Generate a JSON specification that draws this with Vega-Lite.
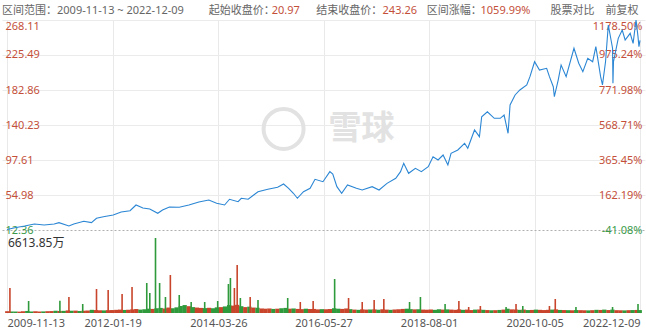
{
  "$schema": "https://vega.github.io/schema/vega-lite/v6.json",
  "width": 643,
  "height": 293,
  "autosize": {"type": "none"},
  "padding": {"left": 2, "right": 1, "top": 20, "bottom": 15},
  "background": "white",
  "config": {"view": {"stroke": null}},
  "title": {
    "text": "区间范围：2009-11-13 ~ 2022-12-09\u3000\u3000\u00a0起始收盘价：\u00a0\u3000\u3000\u3000\u00a0\u00a0结束收盘价：\u00a0\u3000\u3000\u3000\u00a0\u00a0\u00a0区间涨幅：\u00a0\u3000\u3000\u3000\u3000\u3000\u3000股票对比\u3000前复权",
    "subtitle": "\u200b\u3000\u3000\u3000\u3000\u3000\u3000\u3000\u3000\u3000\u3000\u3000\u3000\u3000\u3000\u3000\u3000\u3000\u3000\u3000\u3000\u3000\u3000\u3000\u3000\u00a0\u00a020.97\u3000\u3000\u3000\u3000\u3000\u3000\u3000\u00a0\u00a0243.26\u3000\u3000\u3000\u3000\u3000\u00a0\u00a0\u00a01059.99%",
    "anchor": "start",
    "frame": "group",
    "font": "Noto Sans, Noto Sans CJK SC",
    "fontSize": 11,
    "fontWeight": "normal",
    "color": "#666666",
    "lineHeight": 11,
    "subtitleFont": "Noto Sans, Noto Sans CJK SC",
    "subtitleFontSize": 11,
    "subtitleFontWeight": "normal",
    "subtitleColor": "#c4503a",
    "subtitleLineHeight": 11,
    "subtitlePadding": -11,
    "offset": 2
  },
  "datasets": {
    "price": [
      {"d": "2009-11-13", "p": 13.0}, {"d": "2010-01-11", "p": 15.2}, {"d": "2010-03-26", "p": 17.2},
      {"d": "2010-06-08", "p": 19.7}, {"d": "2010-08-20", "p": 18.5}, {"d": "2010-11-04", "p": 19.7},
      {"d": "2010-12-10", "p": 21.3}, {"d": "2011-02-23", "p": 17.2}, {"d": "2011-04-01", "p": 19.7},
      {"d": "2011-06-15", "p": 23.0}, {"d": "2011-08-12", "p": 21.3}, {"d": "2011-09-19", "p": 26.6},
      {"d": "2011-11-10", "p": 28.6}, {"d": "2012-01-23", "p": 30.6}, {"d": "2012-03-23", "p": 34.3},
      {"d": "2012-05-29", "p": 35.9}, {"d": "2012-07-13", "p": 42.8}, {"d": "2012-09-03", "p": 39.2},
      {"d": "2012-10-25", "p": 37.9}, {"d": "2012-12-24", "p": 32.7}, {"d": "2013-01-29", "p": 36.7},
      {"d": "2013-03-22", "p": 40.4}, {"d": "2013-06-04", "p": 40.0}, {"d": "2013-08-16", "p": 42.8},
      {"d": "2013-10-30", "p": 46.5}, {"d": "2014-01-13", "p": 48.9}, {"d": "2014-03-13", "p": 44.9},
      {"d": "2014-05-12", "p": 42.8}, {"d": "2014-06-18", "p": 49.8}, {"d": "2014-08-22", "p": 46.8},
      {"d": "2014-09-15", "p": 51.0}, {"d": "2014-11-06", "p": 49.8}, {"d": "2015-01-19", "p": 59.0},
      {"d": "2015-04-03", "p": 61.9}, {"d": "2015-06-16", "p": 64.4}, {"d": "2015-07-31", "p": 68.4},
      {"d": "2015-09-07", "p": 63.1}, {"d": "2015-10-13", "p": 57.1}, {"d": "2015-11-12", "p": 51.0},
      {"d": "2015-12-28", "p": 59.0}, {"d": "2016-02-16", "p": 63.1}, {"d": "2016-03-24", "p": 74.1},
      {"d": "2016-05-23", "p": 71.2}, {"d": "2016-07-14", "p": 83.4}, {"d": "2016-08-05", "p": 80.6},
      {"d": "2016-09-05", "p": 65.1}, {"d": "2016-10-11", "p": 57.1}, {"d": "2016-11-24", "p": 67.2},
      {"d": "2017-01-30", "p": 63.1}, {"d": "2017-03-15", "p": 61.1}, {"d": "2017-05-29", "p": 65.1},
      {"d": "2017-07-20", "p": 61.1}, {"d": "2017-09-18", "p": 69.2}, {"d": "2017-11-23", "p": 75.3},
      {"d": "2017-12-29", "p": 83.4}, {"d": "2018-01-22", "p": 93.6}, {"d": "2018-02-28", "p": 81.4},
      {"d": "2018-04-20", "p": 87.5}, {"d": "2018-06-04", "p": 83.4}, {"d": "2018-07-26", "p": 89.5},
      {"d": "2018-08-31", "p": 101.6}, {"d": "2018-10-08", "p": 97.6}, {"d": "2018-11-15", "p": 103.7},
      {"d": "2018-12-21", "p": 91.5}, {"d": "2019-01-14", "p": 105.8}, {"d": "2019-03-06", "p": 109.8},
      {"d": "2019-04-26", "p": 118.0}, {"d": "2019-05-20", "p": 111.9}, {"d": "2019-07-10", "p": 134.2},
      {"d": "2019-08-16", "p": 126.0}, {"d": "2019-09-02", "p": 150.3}, {"d": "2019-10-15", "p": 156.4},
      {"d": "2019-12-06", "p": 148.4}, {"d": "2020-01-20", "p": 148.4}, {"d": "2020-02-18", "p": 152.4},
      {"d": "2020-03-19", "p": 130.1}, {"d": "2020-04-03", "p": 164.6}, {"d": "2020-05-11", "p": 176.8},
      {"d": "2020-06-16", "p": 182.9}, {"d": "2020-08-07", "p": 189.0}, {"d": "2020-08-31", "p": 199.1},
      {"d": "2020-10-05", "p": 217.3}, {"d": "2020-11-11", "p": 207.2}, {"d": "2021-01-04", "p": 209.3},
      {"d": "2021-01-25", "p": 199.1}, {"d": "2021-02-23", "p": 186.9}, {"d": "2021-03-03", "p": 174.7},
      {"d": "2021-04-01", "p": 195.0}, {"d": "2021-04-23", "p": 213.3}, {"d": "2021-05-31", "p": 199.1},
      {"d": "2021-07-29", "p": 233.7}, {"d": "2021-09-03", "p": 215.4}, {"d": "2021-10-04", "p": 205.2},
      {"d": "2021-11-10", "p": 221.5}, {"d": "2021-12-17", "p": 217.3}, {"d": "2022-01-10", "p": 235.6},
      {"d": "2022-02-15", "p": 199.1}, {"d": "2022-03-01", "p": 189.0}, {"d": "2022-03-24", "p": 217.3},
      {"d": "2022-04-14", "p": 262.0}, {"d": "2022-05-16", "p": 233.7}, {"d": "2022-05-19", "p": 191.0},
      {"d": "2022-05-23", "p": 217.3}, {"d": "2022-06-28", "p": 245.8}, {"d": "2022-07-28", "p": 255.9},
      {"d": "2022-08-19", "p": 243.8}, {"d": "2022-09-26", "p": 251.9}, {"d": "2022-10-18", "p": 239.7},
      {"d": "2022-11-09", "p": 268.11}, {"d": "2022-11-24", "p": 247.8}, {"d": "2022-12-01", "p": 235.6},
      {"d": "2022-12-09", "p": 243.26}
    ],
    "vol": [
      {"d": "2009-11-15", "v": 160, "s": "up"}, {"d": "2009-12-15", "v": 140, "s": "dn"},
      {"d": "2010-01-15", "v": 130, "s": "dn"}, {"d": "2010-02-15", "v": 120, "s": "up"}, {"d": "2010-03-15", "v": 150, "s": "up"}, {"d": "2010-04-15", "v": 180, "s": "dn"}, {"d": "2010-05-15", "v": 140, "s": "dn"}, {"d": "2010-06-15", "v": 150, "s": "up"}, {"d": "2010-07-15", "v": 130, "s": "up"}, {"d": "2010-08-15", "v": 140, "s": "dn"}, {"d": "2010-09-15", "v": 160, "s": "up"}, {"d": "2010-10-15", "v": 170, "s": "up"}, {"d": "2010-11-15", "v": 200, "s": "dn"}, {"d": "2010-12-15", "v": 180, "s": "up"},
      {"d": "2011-01-15", "v": 190, "s": "dn"}, {"d": "2011-02-15", "v": 230, "s": "up"}, {"d": "2011-03-15", "v": 200, "s": "dn"}, {"d": "2011-04-15", "v": 210, "s": "up"}, {"d": "2011-05-15", "v": 180, "s": "dn"}, {"d": "2011-06-15", "v": 200, "s": "up"}, {"d": "2011-07-15", "v": 220, "s": "up"}, {"d": "2011-08-15", "v": 280, "s": "dn"}, {"d": "2011-09-15", "v": 260, "s": "up"}, {"d": "2011-10-15", "v": 240, "s": "up"}, {"d": "2011-11-15", "v": 230, "s": "dn"}, {"d": "2011-12-15", "v": 250, "s": "up"},
      {"d": "2012-01-15", "v": 260, "s": "up"}, {"d": "2012-02-15", "v": 280, "s": "up"}, {"d": "2012-03-15", "v": 300, "s": "up"}, {"d": "2012-04-15", "v": 270, "s": "dn"}, {"d": "2012-05-15", "v": 290, "s": "up"}, {"d": "2012-06-15", "v": 320, "s": "up"}, {"d": "2012-07-15", "v": 350, "s": "up"}, {"d": "2012-08-15", "v": 300, "s": "dn"}, {"d": "2012-09-15", "v": 330, "s": "dn"}, {"d": "2012-10-15", "v": 380, "s": "dn"}, {"d": "2012-11-15", "v": 360, "s": "up"}, {"d": "2012-12-15", "v": 420, "s": "dn"},
      {"d": "2013-01-15", "v": 450, "s": "dn"}, {"d": "2013-02-15", "v": 400, "s": "up"}, {"d": "2013-03-15", "v": 480, "s": "up"}, {"d": "2013-04-15", "v": 420, "s": "dn"}, {"d": "2013-05-15", "v": 500, "s": "dn"}, {"d": "2013-06-15", "v": 620, "s": "dn"}, {"d": "2013-07-15", "v": 700, "s": "dn"}, {"d": "2013-08-15", "v": 600, "s": "up"}, {"d": "2013-09-15", "v": 520, "s": "dn"}, {"d": "2013-10-15", "v": 480, "s": "up"}, {"d": "2013-11-15", "v": 450, "s": "up"}, {"d": "2013-12-15", "v": 430, "s": "dn"},
      {"d": "2014-01-15", "v": 460, "s": "up"}, {"d": "2014-02-15", "v": 420, "s": "dn"}, {"d": "2014-03-15", "v": 500, "s": "dn"}, {"d": "2014-04-15", "v": 520, "s": "up"}, {"d": "2014-05-15", "v": 580, "s": "dn"}, {"d": "2014-06-15", "v": 700, "s": "dn"}, {"d": "2014-07-15", "v": 650, "s": "up"}, {"d": "2014-08-15", "v": 720, "s": "up"}, {"d": "2014-09-15", "v": 600, "s": "dn"}, {"d": "2014-10-15", "v": 520, "s": "up"}, {"d": "2014-11-15", "v": 560, "s": "dn"}, {"d": "2014-12-15", "v": 480, "s": "up"},
      {"d": "2015-01-15", "v": 460, "s": "dn"}, {"d": "2015-02-15", "v": 400, "s": "up"}, {"d": "2015-03-15", "v": 380, "s": "up"}, {"d": "2015-04-15", "v": 400, "s": "up"}, {"d": "2015-05-15", "v": 360, "s": "dn"}, {"d": "2015-06-15", "v": 380, "s": "up"}, {"d": "2015-07-15", "v": 420, "s": "dn"}, {"d": "2015-08-15", "v": 450, "s": "dn"}, {"d": "2015-09-15", "v": 380, "s": "up"}, {"d": "2015-10-15", "v": 400, "s": "dn"}, {"d": "2015-11-15", "v": 360, "s": "up"}, {"d": "2015-12-15", "v": 340, "s": "up"},
      {"d": "2016-01-15", "v": 380, "s": "dn"}, {"d": "2016-02-15", "v": 350, "s": "up"}, {"d": "2016-03-15", "v": 360, "s": "up"}, {"d": "2016-04-15", "v": 320, "s": "up"}, {"d": "2016-05-15", "v": 340, "s": "dn"}, {"d": "2016-06-15", "v": 330, "s": "up"}, {"d": "2016-07-15", "v": 350, "s": "up"}, {"d": "2016-08-15", "v": 420, "s": "dn"}, {"d": "2016-09-15", "v": 380, "s": "dn"}, {"d": "2016-10-15", "v": 360, "s": "up"}, {"d": "2016-11-15", "v": 400, "s": "up"}, {"d": "2016-12-15", "v": 340, "s": "dn"},
      {"d": "2017-01-15", "v": 300, "s": "up"}, {"d": "2017-02-15", "v": 280, "s": "dn"}, {"d": "2017-03-15", "v": 320, "s": "up"}, {"d": "2017-04-15", "v": 300, "s": "up"}, {"d": "2017-05-15", "v": 310, "s": "dn"}, {"d": "2017-06-15", "v": 320, "s": "up"}, {"d": "2017-07-15", "v": 290, "s": "dn"}, {"d": "2017-08-15", "v": 330, "s": "up"}, {"d": "2017-09-15", "v": 300, "s": "up"}, {"d": "2017-10-15", "v": 280, "s": "dn"}, {"d": "2017-11-15", "v": 310, "s": "up"}, {"d": "2017-12-15", "v": 330, "s": "up"},
      {"d": "2018-01-15", "v": 360, "s": "up"}, {"d": "2018-02-15", "v": 380, "s": "dn"}, {"d": "2018-03-15", "v": 340, "s": "dn"}, {"d": "2018-04-15", "v": 320, "s": "up"}, {"d": "2018-05-15", "v": 330, "s": "dn"}, {"d": "2018-06-15", "v": 300, "s": "up"}, {"d": "2018-07-15", "v": 290, "s": "up"}, {"d": "2018-08-15", "v": 310, "s": "up"}, {"d": "2018-09-15", "v": 280, "s": "dn"}, {"d": "2018-10-15", "v": 330, "s": "dn"}, {"d": "2018-11-15", "v": 300, "s": "up"}, {"d": "2018-12-15", "v": 320, "s": "dn"},
      {"d": "2019-01-15", "v": 300, "s": "up"}, {"d": "2019-02-15", "v": 280, "s": "up"}, {"d": "2019-03-15", "v": 320, "s": "up"}, {"d": "2019-04-15", "v": 280, "s": "dn"}, {"d": "2019-05-15", "v": 300, "s": "up"}, {"d": "2019-06-15", "v": 260, "s": "up"}, {"d": "2019-07-15", "v": 300, "s": "dn"}, {"d": "2019-08-15", "v": 310, "s": "up"}, {"d": "2019-09-15", "v": 280, "s": "dn"}, {"d": "2019-10-15", "v": 260, "s": "up"}, {"d": "2019-11-15", "v": 240, "s": "dn"}, {"d": "2019-12-15", "v": 250, "s": "up"},
      {"d": "2020-01-15", "v": 270, "s": "dn"}, {"d": "2020-02-15", "v": 300, "s": "up"}, {"d": "2020-03-15", "v": 380, "s": "dn"}, {"d": "2020-04-15", "v": 320, "s": "up"}, {"d": "2020-05-15", "v": 300, "s": "up"}, {"d": "2020-06-15", "v": 280, "s": "dn"}, {"d": "2020-07-15", "v": 300, "s": "up"}, {"d": "2020-08-15", "v": 260, "s": "dn"}, {"d": "2020-09-15", "v": 270, "s": "up"}, {"d": "2020-10-15", "v": 300, "s": "dn"}, {"d": "2020-11-15", "v": 280, "s": "up"}, {"d": "2020-12-15", "v": 260, "s": "up"},
      {"d": "2021-01-15", "v": 280, "s": "up"}, {"d": "2021-02-15", "v": 300, "s": "dn"}, {"d": "2021-03-15", "v": 320, "s": "up"}, {"d": "2021-04-15", "v": 270, "s": "dn"}, {"d": "2021-05-15", "v": 260, "s": "up"}, {"d": "2021-06-15", "v": 250, "s": "dn"}, {"d": "2021-07-15", "v": 240, "s": "up"}, {"d": "2021-08-15", "v": 260, "s": "dn"}, {"d": "2021-09-15", "v": 250, "s": "up"}, {"d": "2021-10-15", "v": 240, "s": "up"}, {"d": "2021-11-15", "v": 230, "s": "dn"}, {"d": "2021-12-15", "v": 250, "s": "up"},
      {"d": "2022-01-15", "v": 280, "s": "dn"}, {"d": "2022-02-15", "v": 270, "s": "up"}, {"d": "2022-03-15", "v": 300, "s": "dn"}, {"d": "2022-04-15", "v": 260, "s": "up"}, {"d": "2022-05-15", "v": 300, "s": "dn"}, {"d": "2022-06-15", "v": 250, "s": "up"}, {"d": "2022-07-15", "v": 240, "s": "up"}, {"d": "2022-08-15", "v": 230, "s": "dn"}, {"d": "2022-09-15", "v": 250, "s": "up"}, {"d": "2022-10-15", "v": 260, "s": "dn"}, {"d": "2022-11-15", "v": 270, "s": "up"}, {"d": "2022-12-07", "v": 260, "s": "dn"}
    ],
    "spikes": [
      {"d": "2009-12-05", "v": 2205, "s": "up"}, {"d": "2010-04-25", "v": 1058, "s": "dn"}, {"d": "2010-12-17", "v": 1085, "s": "dn"},
      {"d": "2011-02-23", "v": 1411, "s": "up"}, {"d": "2011-06-07", "v": 794, "s": "dn"}, {"d": "2011-09-19", "v": 2117, "s": "up"},
      {"d": "2011-12-16", "v": 2029, "s": "up"}, {"d": "2012-03-30", "v": 1676, "s": "up"}, {"d": "2012-06-13", "v": 2293, "s": "up"},
      {"d": "2012-10-02", "v": 2646, "s": "dn"}, {"d": "2012-10-25", "v": 1764, "s": "dn"}, {"d": "2012-12-07", "v": 6613.85, "s": "dn"},
      {"d": "2013-01-07", "v": 2646, "s": "dn"}, {"d": "2013-02-20", "v": 1411, "s": "dn"}, {"d": "2013-03-29", "v": 3352, "s": "up"},
      {"d": "2013-06-04", "v": 1588, "s": "dn"}, {"d": "2013-09-02", "v": 970, "s": "dn"}, {"d": "2013-12-13", "v": 970, "s": "dn"},
      {"d": "2014-03-21", "v": 1058, "s": "dn"}, {"d": "2014-06-10", "v": 2558, "s": "dn"}, {"d": "2014-06-25", "v": 3087, "s": "dn"},
      {"d": "2014-07-25", "v": 2205, "s": "up"}, {"d": "2014-08-15", "v": 4234, "s": "up"}, {"d": "2014-09-08", "v": 1323, "s": "dn"},
      {"d": "2014-11-21", "v": 1411, "s": "up"}, {"d": "2015-01-19", "v": 1147, "s": "dn"}, {"d": "2015-08-31", "v": 1323, "s": "dn"},
      {"d": "2015-12-04", "v": 970, "s": "up"}, {"d": "2016-03-10", "v": 1058, "s": "up"}, {"d": "2016-08-19", "v": 2999, "s": "dn"},
      {"d": "2016-12-02", "v": 1323, "s": "up"}, {"d": "2017-03-15", "v": 970, "s": "up"}, {"d": "2017-06-13", "v": 1147, "s": "up"},
      {"d": "2017-08-25", "v": 1235, "s": "up"}, {"d": "2018-03-07", "v": 970, "s": "dn"}, {"d": "2018-05-28", "v": 1411, "s": "dn"},
      {"d": "2018-11-30", "v": 794, "s": "dn"}, {"d": "2019-03-14", "v": 1058, "s": "up"}, {"d": "2019-05-27", "v": 529, "s": "up"},
      {"d": "2019-08-23", "v": 617, "s": "up"}, {"d": "2020-03-04", "v": 529, "s": "dn"}, {"d": "2020-05-18", "v": 794, "s": "up"},
      {"d": "2020-07-08", "v": 617, "s": "dn"}, {"d": "2021-01-25", "v": 617, "s": "up"}, {"d": "2021-03-10", "v": 1235, "s": "up"},
      {"d": "2021-08-13", "v": 529, "s": "dn"}, {"d": "2022-05-16", "v": 529, "s": "dn"}, {"d": "2022-11-24", "v": 794, "s": "dn"}
    ]
  },
  "layer": [
    {
      "data": {"name": "price"},
      "mark": {"type": "line", "color": "#2b86d4", "strokeWidth": 1.1},
      "encoding": {
        "x": {
          "field": "d",
          "type": "temporal",
          "scale": {
            "type": "utc",
            "domain": [
              {"year": 2009, "month": 11, "date": 13, "utc": true},
              {"year": 2022, "month": 12, "date": 9, "utc": true}
            ]
          },
          "axis": {
            "values": [
              {"year": 2009, "month": 11, "date": 13, "utc": true},
              {"year": 2012, "month": 1, "date": 19, "utc": true},
              {"year": 2014, "month": 3, "date": 26, "utc": true},
              {"year": 2016, "month": 5, "date": 27, "utc": true},
              {"year": 2018, "month": 8, "date": 1, "utc": true},
              {"year": 2020, "month": 10, "date": 5, "utc": true},
              {"year": 2022, "month": 12, "date": 9, "utc": true}
            ],
            "format": "%Y-%m-%d",
            "labelFlush": false,
            "labelAlign": {
              "condition": [
                {"test": "time(datum.value) < utc(2010, 0, 1)", "value": "left"},
                {"test": "time(datum.value) > utc(2022, 0, 1)", "value": "right"}
              ],
              "value": "center"
            },
            "labelOverlap": false,
            "grid": true,
            "gridColor": "#e9e9e9",
            "domain": false,
            "ticks": false,
            "tickSize": 0,
            "labelPadding": 4,
            "labelFont": "Noto Sans",
            "labelFontSize": 11,
            "labelColor": "#555555",
            "title": null
          }
        },
        "y": {
          "field": "p",
          "type": "quantitative",
          "scale": {"domain": [-88.72, 268.11], "nice": false, "zero": false},
          "axis": {
            "orient": "left",
            "values": [12.36, 54.98, 97.61, 140.23, 182.86, 225.49, 268.11],
            "format": ".2f",
            "grid": true,
            "gridColor": {"condition": {"test": "datum.value < 13", "value": "#b0b0b0"}, "value": "#ebebeb"},
            "gridDash": {"condition": {"test": "datum.value < 13", "value": [2, 2]}, "value": []},
            "domain": false,
            "ticks": false,
            "tickSize": 0,
            "labelPadding": -3,
            "labelAlign": "left",
            "labelBaseline": {"condition": {"test": "datum.value > 268", "value": "top"}, "value": "middle"},
            "labelColor": {"condition": {"test": "datum.value < 13", "value": "#3a9a4a"}, "value": "#c4503a"},
            "labelFont": "Noto Sans",
            "labelFontSize": 11,
            "title": null
          }
        }
      }
    },
    {
      "data": {"values": [{"k": 1}]},
      "mark": {"type": "point", "shape": "circle", "filled": false, "size": 1600, "strokeWidth": 4, "color": "#e2e2e2", "opacity": 1},
      "encoding": {
        "x": {"datum": {"year": 2015, "month": 7, "date": 31, "utc": true}, "type": "temporal", "scale": {"type": "utc"}},
        "y": {"datum": 135.4, "type": "quantitative", "scale": {"domain": [-88.72, 268.11], "nice": false, "zero": false}, "axis": null}
      }
    },
    {
      "data": {"values": [{"label": "雪球"}]},
      "mark": {"type": "text", "font": "Noto Sans CJK SC", "fontSize": 33, "fontWeight": "bold", "color": "#e2e2e2", "align": "center", "baseline": "middle"},
      "encoding": {
        "text": {"field": "label"},
        "x": {"datum": {"year": 2017, "month": 3, "date": 9, "utc": true}, "type": "temporal", "scale": {"type": "utc"}},
        "y": {"datum": 135.4, "type": "quantitative", "scale": {"domain": [-88.72, 268.11], "nice": false, "zero": false}, "axis": null}
      }
    },
    {
      "data": {"name": "vol"},
      "mark": {"type": "bar", "size": 4.3},
      "encoding": {
        "x": {"field": "d", "type": "temporal", "scale": {"type": "utc"}},
        "y": {"field": "v", "type": "quantitative", "scale": {"domain": [0, 25838], "nice": false}, "axis": null},
        "color": {"field": "s", "type": "nominal", "scale": {"domain": ["up", "dn"], "range": ["#c8452c", "#2f9a3c"]}, "legend": null}
      }
    },
    {
      "data": {"name": "spikes"},
      "mark": {"type": "bar", "size": 1.6},
      "encoding": {
        "x": {"field": "d", "type": "temporal", "scale": {"type": "utc"}},
        "y": {"field": "v", "type": "quantitative", "scale": {"domain": [0, 25838], "nice": false}, "axis": null},
        "color": {"field": "s", "type": "nominal", "scale": {"domain": ["up", "dn"], "range": ["#c8452c", "#2f9a3c"]}, "legend": null}
      }
    },
    {
      "data": {"name": "spikes"},
      "transform": [
        {"aggregate": [{"op": "max", "field": "v", "as": "vmax"}]},
        {"calculate": "format(datum.vmax, '.2f') + '万'", "as": "label"}
      ],
      "mark": {"type": "text", "align": "left", "baseline": "top", "font": "Noto Sans, Noto Sans CJK SC", "fontSize": 12, "color": "#333333", "dx": 1},
      "encoding": {
        "text": {"field": "label"},
        "x": {"datum": {"year": 2009, "month": 11, "date": 13, "utc": true}, "type": "temporal", "scale": {"type": "utc"}},
        "y": {"field": "vmax", "type": "quantitative", "scale": {"domain": [0, 25838], "nice": false}, "axis": null}
      }
    },
    {
      "data": {"name": "price"},
      "mark": {"type": "line", "opacity": 0},
      "encoding": {
        "x": {"field": "d", "type": "temporal", "scale": {"type": "utc"}},
        "y": {
          "field": "p",
          "type": "quantitative",
          "scale": {"domain": [-88.72, 268.11], "nice": false, "zero": false},
          "axis": {
            "orient": "right",
            "values": [12.36, 54.98, 97.61, 140.23, 182.86, 225.49, 268.11],
            "labelExpr": "datum.value < 13 ? '-41.08%' : datum.value < 55 ? '162.19%' : datum.value < 98 ? '365.45%' : datum.value < 141 ? '568.71%' : datum.value < 183 ? '771.98%' : datum.value < 226 ? '975.24%' : '1178.50%'",
            "grid": false,
            "domain": false,
            "ticks": false,
            "tickSize": 0,
            "labelPadding": -3,
            "labelAlign": "right",
            "labelBaseline": {"condition": {"test": "datum.value > 268", "value": "top"}, "value": "middle"},
            "labelColor": {"condition": {"test": "datum.value < 13", "value": "#3a9a4a"}, "value": "#c4503a"},
            "labelFont": "Noto Sans",
            "labelFontSize": 11,
            "title": null
          }
        }
      }
    }
  ],
  "resolve": {"scale": {"y": "independent", "color": "shared"}}
}
